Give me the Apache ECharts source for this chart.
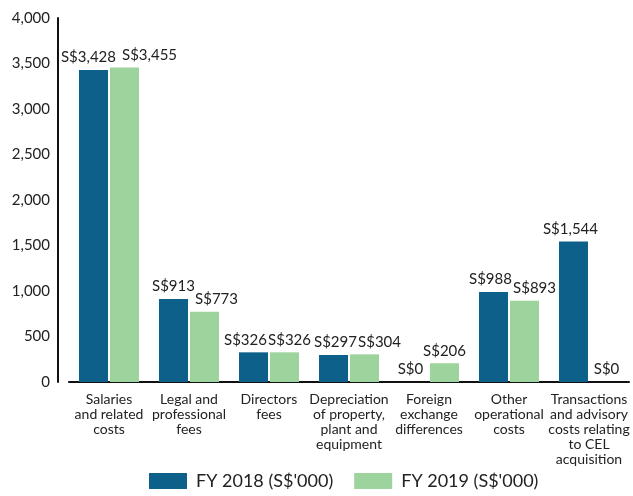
<!DOCTYPE html>
<html>
<head>
<meta charset="utf-8">
<script src="https://cdn.jsdelivr.net/npm/echarts@6/dist/echarts.min.js"></script>
<style>
  html, body { margin: 0; padding: 0; background: #fff; }
  #chart { width: 633px; height: 496px; }
</style>
</head>
<body>
<div id="chart"></div>
<script>
const categories = [
  'Salaries\nand related\ncosts',
  'Legal and\nprofessional\nfees',
  'Directors\nfees',
  'Depreciation\nof property,\nplant and\nequipment',
  'Foreign\nexchange\ndifferences',
  'Other\noperational\ncosts',
  'Transactions\nand advisory\ncosts relating\nto CEL\nacquisition'
];
const fy2018 = [3428, 913, 326, 297, 0, 988, 1544];
const fy2019 = [3455, 773, 326, 304, 206, 893, 0];
const seriesNames = ["FY 2018 (S$'000)", "FY 2019 (S$'000)"];
const colors = ['#0c6089', '#9dd39c'];

// horizontal nudges of the value labels so they don't collide
const shift2018 = [-5, 0, -8, 2, -3, -3, -3];
const shift2019 = [25, 12, 5, 15, 0, 10, 2];

const fontFamily = 'Lato, "Open Sans", sans-serif';

function money(p) {
  return 'S$' + p.value.toLocaleString('en-US');
}

function withShift(values, shifts) {
  return values.map((v, i) => ({ value: v, label: { offset: [shifts[i], 0] } }));
}

const valueLabel = {
  show: true,
  position: 'top',
  distance: 5,
  color: '#222',
  fontSize: 15,
  fontFamily: fontFamily,
  formatter: money
};

const myChart = echarts.init(document.getElementById('chart'));

const option = {
  animation: false,
  color: colors,
  textStyle: { fontFamily: fontFamily },
  grid: { left: 69, right: 4, top: 18, bottom: 114 },
  legend: {
    left: 144,
    bottom: 1,
    itemWidth: 38,
    itemHeight: 16,
    itemGap: 21,
    icon: 'rect',
    textStyle: { fontSize: 18, color: '#222', fontFamily: fontFamily, padding: [0, 0, 0, 4] },
    data: seriesNames
  },
  xAxis: {
    type: 'category',
    data: categories,
    axisLine: { lineStyle: { color: '#111', width: 2 } },
    axisTick: { show: false },
    axisLabel: {
      interval: 0,
      color: '#222',
      fontSize: 14,
      lineHeight: 15,
      margin: 10,
      fontFamily: fontFamily
    }
  },
  yAxis: {
    type: 'value',
    min: 0,
    max: 4000,
    interval: 500,
    offset: 11,
    splitLine: { show: false },
    axisLine: { show: true, lineStyle: { color: '#111', width: 2 } },
    axisTick: { show: false },
    axisLabel: {
      color: '#222',
      fontSize: 15,
      margin: 8,
      fontFamily: fontFamily,
      formatter: v => v.toLocaleString('en-US')
    }
  },
  series: [
    {
      name: seriesNames[0],
      type: 'bar',
      data: withShift(fy2018, shift2018),
      barWidth: 29,
      barGap: '7%',
      label: valueLabel
    },
    {
      name: seriesNames[1],
      type: 'bar',
      data: withShift(fy2019, shift2019),
      barWidth: 29,
      label: valueLabel
    }
  ]
};

myChart.setOption(option);
</script>
</body>
</html>
